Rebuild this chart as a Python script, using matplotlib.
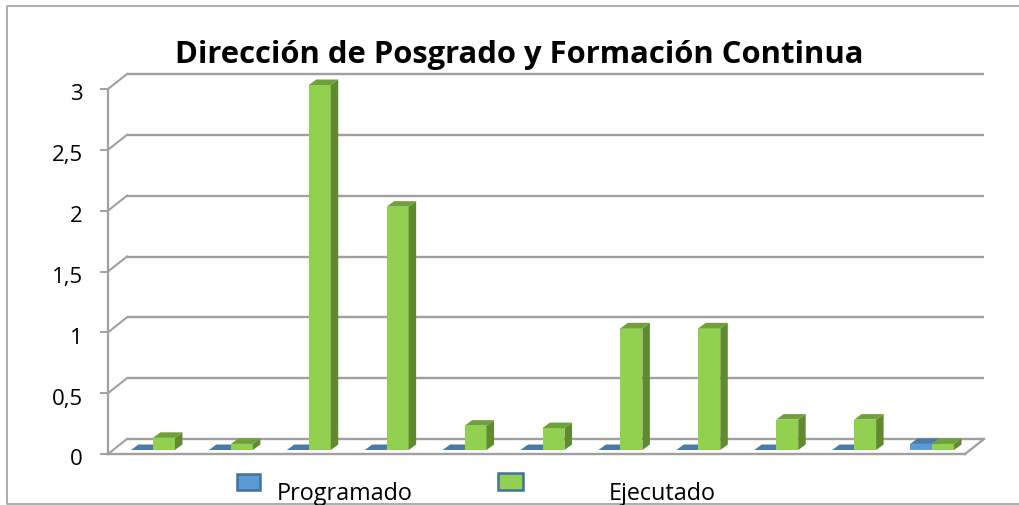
import matplotlib
matplotlib.use("Agg")
import matplotlib.pyplot as plt
from matplotlib.patches import Polygon, Rectangle
from matplotlib.transforms import ScaledTranslation

programado = [0, 0, 0, 0, 0, 0, 0, 0, 0, 0, 0.05]
ejecutado = [0.1, 0.05, 3, 2, 0.2, 0.18, 1, 1, 0.25, 0.25, 0.05]
y_ticks = [0, 0.5, 1, 1.5, 2, 2.5, 3]
y_labels = ["0", "0,5", "1", "1,5", "2", "2,5", "3"]
title = "Dirección de Posgrado y Formación Continua"
legend_names = ["Programado", "Ejecutado"]

W, H = 1019, 506
GRID = "#a0a0a0"
BLUE = ("#5b9bd5", "#4a7ba8", "#41719c")
GREEN = ("#92d050", "#6fa03a", "#5f8a30")
BAR_W = 0.282
DX, DY = 7.5, 5.5  # depth of one bar, px

plt.rcParams["font.family"] = ["Open Sans", "DejaVu Sans"]

fig = plt.figure(figsize=(W / 100, H / 100), dpi=100)
# the axes box is the front plane of the 3d chart
ax = fig.add_axes([108 / W, 1 - 455 / H, 857 / W, (455 - 90) / H])
ax.set_xlim(0, len(ejecutado))
ax.set_ylim(0, 3)
ax.patch.set_visible(False)
for s in ["top", "right", "bottom"]:
    ax.spines[s].set_visible(False)
ax.spines["left"].set_color(GRID)
ax.spines["left"].set_linewidth(1.6)
ax.set_xticks([])
ax.set_yticks(y_ticks)
ax.set_yticklabels(y_labels, fontsize=16, color="black")
ax.tick_params(axis="y", length=6, width=1.4, color=GRID, pad=12)
# labels sit a little under their ticks in the original
for lab in ax.get_yticklabels():
    lab.set_transform(lab.get_transform() + ScaledTranslation(0, -2.5 / 100, fig.dpi_scale_trans))


def shifted(px, py):
    return ax.transData + ScaledTranslation(px / 100, py / 100, fig.dpi_scale_trans)


# floor and back wall
n = len(ejecutado)
back = shifted(19, 15)
for v in y_ticks:
    ax.plot([0, n], [v, v], color=GRID, lw=1.7, transform=back, clip_on=False, zorder=1,
            solid_capstyle="butt")
    ax.plot([0, 19 / 77.9], [v, v + 15 / 121.7], color=GRID, lw=1.5, clip_on=False, zorder=1)
ax.plot([0, n], [0, 0], color=GRID, lw=1.7, clip_on=False, zorder=1)
ax.plot([n, n + 19 / 77.9], [0, 15 / 121.7], color=GRID, lw=1.7, clip_on=False, zorder=1)


def draw_bar(x, v, colors, z):
    tr = shifted(6, 4)
    dx = DX / 77.9
    dy = DY / 121.7
    l, r = x, x + BAR_W
    if v > 0:
        ax.add_patch(Rectangle((l, 0), BAR_W, v, fc=colors[0], ec="none", transform=tr,
                               clip_on=False, zorder=z))
        ax.add_patch(Polygon([(r, 0), (r + dx, dy), (r + dx, v + dy), (r, v)], fc=colors[2],
                             ec="none", transform=tr, clip_on=False, zorder=z))
    ax.add_patch(Polygon([(l, v), (l + dx, v + dy), (r + dx, v + dy), (r, v)], fc=colors[1],
                         ec="none", transform=tr, clip_on=False, zorder=z))


for i in range(n):
    draw_bar(i + 0.5 - BAR_W, programado[i], BLUE, 3)
    draw_bar(i + 0.5, ejecutado[i], GREEN, 4)

fig.text(519 / W, 1 - 63 / H, title, ha="center", va="baseline", fontsize=22.3, fontweight="bold",
         color="black")

# legend, the text sits right on the bottom border like in the original
keys = [(237, 475, 23, 16, BLUE[0], "#41719c"), (498, 474, 25, 17, GREEN[0], "#41719c")]
for (x, y, w, h, fc, ec), name, tx in zip(keys, legend_names, [277, 609]):
    fig.add_artist(Rectangle((x / W, 1 - (y + h) / H), w / W, h / H, fc=fc, ec=ec, lw=1.8,
                             transform=fig.transFigure))
    fig.text(tx / W, 1 - 500.5 / H, name, ha="left", va="baseline", fontsize=16.8, color="black")

# chart border, open on the right
bx = [1, 6.5 / W, 6.5 / W, 1]
by = [1 - 6.5 / H, 1 - 6.5 / H, 1 - 504.5 / H, 1 - 504.5 / H]
fig.add_artist(plt.Line2D(bx, by, color="#a6a6a6", lw=1.3, transform=fig.transFigure))

fig.savefig("out.png", dpi=100)
